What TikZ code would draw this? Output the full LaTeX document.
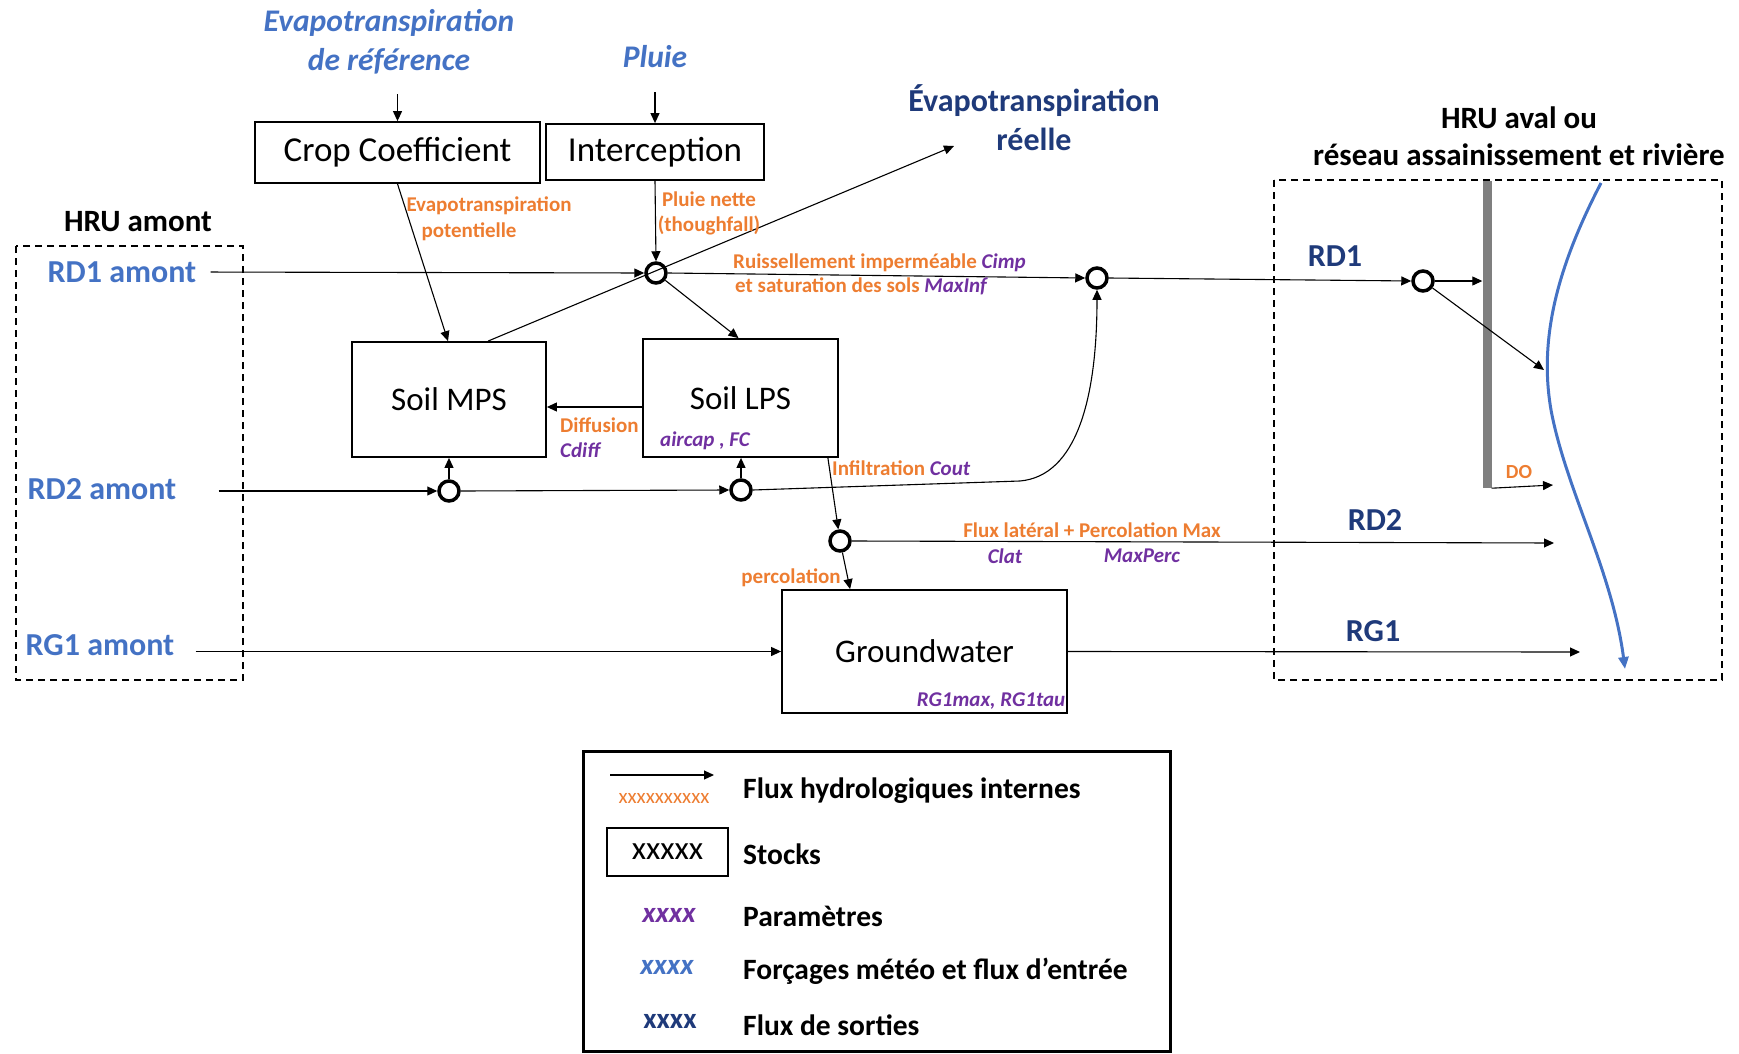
\documentclass[tikz,border=0pt]{standalone}
\usepackage{fontspec}
\setmainfont{Carlito}
\usetikzlibrary{arrows.meta,calc}
\definecolor{inblue}{HTML}{4472C4}
\definecolor{orng}{HTML}{ED7D31}
\definecolor{purp}{HTML}{7030A0}
\definecolor{navy}{HTML}{1F3A7A}
\definecolor{wallgray}{HTML}{7F7F7F}
\newcommand\fsz[2]{\fontsize{#1}{#2}\selectfont}
\newcommand\prm[1]{\textcolor{purp}{\itshape #1}}
\begin{document}
\begin{tikzpicture}[x=1pt,y=-1pt,
  stock/.style={draw,line width=1.8pt,inner sep=0pt,font=\fsz{33}{40}},
  junc/.style={circle,draw,line width=3.5pt,minimum size=20pt,inner sep=0pt},
  flow/.style={line width=1.1pt,-{Triangle[length=10pt,width=9pt]}},
  lbl/.style={inner sep=0pt,font=\bfseries\fsz{21}{25},text=orng},
  par/.style={inner sep=0pt,font=\bfseries\itshape\fsz{21}{25},text=purp},
  inp/.style={inner sep=0pt,font=\bfseries\itshape\fsz{31.5}{39},text=inblue,align=center},
  inpu/.style={inner sep=0pt,font=\bfseries\fsz{32}{36},text=inblue},
  outp/.style={inner sep=0pt,font=\bfseries\fsz{32}{39},text=navy,align=center},
  hdr/.style={inner sep=0pt,font=\bfseries\fsz{31}{37},text=black,align=center},
  legt/.style={inner sep=0pt,font=\bfseries\fsz{29.5}{32},anchor=west},
  hru/.style={draw,dash pattern=on 7pt off 5pt,line width=1.5pt}
]
\useasboundingbox (0,0) rectangle (1739,1054);

% dashed HRU boxes
\draw[hru] (16,246) rectangle (243,680);
\draw[hru] (1274,180) rectangle (1722,680);
\node[hdr] (amont) at (138,222) {HRU amont};
\node[hdr] (aval) at (1519,136.5) {HRU aval ou\\réseau assainissement et rivière};

% inputs
\node[inp] (etref) at (389,41.5) {Evapotranspiration\\de référence};
\node[inp] (pluie) at (655,57) {Pluie};
\node[outp] (etr) at (1034,117.5) {Évapotranspiration\\réelle};
\node[inpu] (rd1a) at (122,272) {RD1 amont};
\node[inpu] (rd2a) at (102,489) {RD2 amont};
\node[inpu] (rg1a) at (100,645) {RG1 amont};

% stocks
\node[stock,font=\fsz{35}{40},minimum width=285pt,minimum height=61pt] (crop) at (397.5,152.5) {\raisebox{-3pt}{Crop Coefficient}};
\node[stock,font=\fsz{35}{40},minimum width=218pt,minimum height=56pt] (interc) at (655,152) {\raisebox{-3pt}{Interception}};
\node[stock,minimum width=194pt,minimum height=115pt] (mps) at (449,399.5) {Soil MPS};
\node[stock,minimum width=195pt,minimum height=118pt] (lps) at (740.5,398) {Soil LPS};
\node[stock,minimum width=285pt,minimum height=123pt] (gw) at (924.5,651.5) {Groundwater};

% junctions
\node[junc] (j1) at (656,273) {};
\node[junc] (j2) at (1097,278) {};
\node[junc] (j3) at (1423,281) {};
\node[junc] (j4) at (449,491) {};
\node[junc] (j5) at (741,490) {};
\node[junc] (j6) at (840,541) {};

% wall and river
\node[fill=wallgray,minimum width=9pt,minimum height=307pt,inner sep=0pt] (wall) at (1487,334.5) {};
\draw[inblue,line width=3pt,-{Triangle[length=12pt,width=10pt]}]
  (1601,183) .. controls (1560,262) and (1538,335) .. (1551,410)
  .. controls (1566,490) and (1612,570) .. (1625,669);

% free ends
\coordinate (etrIn) at (954,146);
\coordinate (rivA) at (1544,370);
\coordinate (doEnd) at (1553,485);
\coordinate (rd2End) at (1554,543);
\coordinate (rg1End) at (1580,652);

% connectors
\draw[flow,shorten <=20pt] (etref.south -| crop.north) -- (crop.north);
\draw[flow,shorten <=24pt] (pluie.south) -- (interc.north);
\draw[flow] (crop.south) -- ([xshift=-1pt]mps.north);
\draw[flow] (interc.south) -- (j1.north);
\draw[flow,shorten <=14pt] (rd1a.east) -- (j1.west);
\draw[flow] (j1) -- ([xshift=-2pt]lps.north);
\draw[flow] ([xshift=39pt]mps.north) -- (etrIn);
\draw[flow] (j1.east) -- (j2.west);
\draw[flow] (j2.east) -- (j3.west);
\draw[flow] (j3.east) -- (j3.east -| wall.west);
\draw[flow] (j3) -- (rivA);
\draw[flow] (wall.south east) -- (doEnd);
\draw[flow] ([yshift=-9pt]lps.west) -- ([yshift=-9pt]lps.west -| mps.east);
\draw[flow,shorten <=42pt] (rd2a.east |- j4.west) -- (j4.west);
\draw[flow] (j4.north) -- (mps.south);
\draw[flow] (j4.east) -- (j5.west);
\draw[flow] (j5.north) -- (j5.north |- lps.south);
\draw[flow] (j5.east) -- (1020,481) .. controls (1076,476) and (1097,400) .. (j2.south);
\draw[flow] ([xshift=-11pt]lps.south east) -- (j6);
\draw[flow] (j6.east) -- (rd2End);
\draw[flow] (j6) -- ([xshift=69pt]gw.north west);
\draw[flow,shorten <=21pt] (rg1a.east |- gw.west) -- (gw.west);
\draw[flow] (gw.east) -- (rg1End);

% flux labels
\node[lbl] (etp1) at (489,206) {Evapotranspiration};
\node[lbl] (etp2) at (469,232) {potentielle};
\node[lbl,align=center] (pn) at (709,213.5) {Pluie nette\\(thoughfall)};
\node[lbl,anchor=west] (ruis1) at (733,263) {Ruissellement imperméable \prm{Cimp}};
\node[lbl,anchor=west] (ruis2) at (735,286) {et saturation des sols \prm{MaxInf}};
\node[lbl,anchor=west] (diff) at (560,425) {Diffusion};
\node[par,anchor=west] (cdiff) at (560,450) {Cdiff};
\node[par] (airc) at (705,441) {aircap , FC};
\node[lbl,anchor=west] (infil) at (832,468) {Infiltration \prm{Cout}};
\node[lbl] (flat) at (1092,530) {Flux latéral + Percolation Max};
\node[par] (clat) at (1005,556) {Clat};
\node[par] (mperc) at (1142,556) {MaxPerc};
\node[lbl] (perc) at (791,578) {percolation};
\node[par] (rgpar) at (991,701) {RG1max, RG1tau};
\node[lbl,font=\bfseries\fsz{20}{22}] (dol) at (1519,472) {DO};
\node[outp] (rd1) at (1335,256) {RD1};
\node[outp] (rd2) at (1375,520) {RD2};
\node[outp] (rg1) at (1373,631) {RG1};

% legend
\node[draw,line width=3pt,minimum width=587pt,minimum height=300pt,inner sep=0pt] (leg) at (876.5,901) {};
\coordinate (la1) at (610,775);
\coordinate (la2) at (714,775);
\draw[flow] (la1) -- (la2);
\node[inner sep=0pt,font=\fsz{21}{24},text=orng] (lx1) at (664,798) {xxxxxxxxxx};
\node[draw,line width=1.8pt,minimum width=121pt,minimum height=48pt,inner sep=0pt,font=\fsz{33}{36}] (lx2) at (667.5,852) {\raisebox{-2pt}{xxxxx}};
\node[inner sep=0pt,font=\bfseries\itshape\fsz{29}{32},text=purp] (lx3) at (669,915) {xxxx};
\node[inner sep=0pt,font=\bfseries\itshape\fsz{29}{32},text=inblue] (lx4) at (667,967) {xxxx};
\node[inner sep=0pt,font=\bfseries\fsz{29}{32},text=navy] (lx5) at (670,1021) {xxxx};
\node[legt] (lt1) at (743,791) {Flux hydrologiques internes};
\node[legt] (lt2) at (743,854) {Stocks};
\node[legt] (lt3) at (743,916) {Paramètres};
\node[legt] (lt4) at (743,971) {Forçages météo et flux d’entrée};
\node[legt] (lt5) at (743,1025) {Flux de sorties};
\end{tikzpicture}
\end{document}
